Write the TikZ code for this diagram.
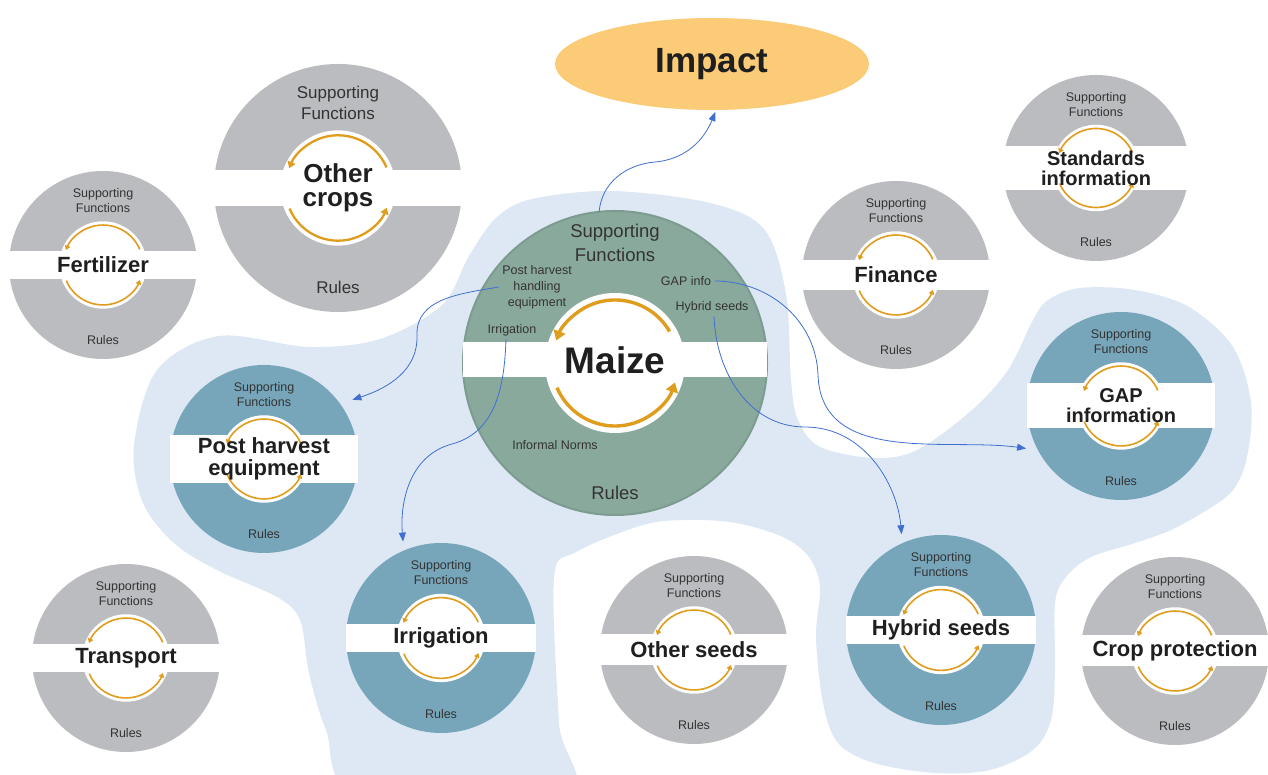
\documentclass[tikz,border=0pt]{standalone}
\usepackage{fontspec}
\setmainfont{Liberation Sans}
\usetikzlibrary{arrows.meta,calc,shapes.geometric}

\definecolor{blob}{HTML}{DDE8F4}
\definecolor{ringgray}{HTML}{BBBCBF}
\definecolor{ringblue}{HTML}{77A6BA}
\definecolor{ringgreen}{HTML}{8AA99D}
\definecolor{ringgreenline}{HTML}{7C9C90}
\definecolor{orng}{HTML}{E09D1D}
\definecolor{impactfill}{HTML}{FBCB78}
\definecolor{linkblue}{HTML}{3F70D0}
\definecolor{txtgray}{HTML}{333333}

\tikzset{
  cyc/.style={draw=orng, line width=1.6pt, -{Triangle[length=0pt 2.8, width=0pt 3.6]}},
  ring/.style={circle, inner sep=0pt, outer sep=0pt},
  sflabel/.style={align=center, text=txtgray, font=\fontsize{12.5}{15}\selectfont},
  mslabel/.style={align=center, text=black!88, font=\bfseries\fontsize{22}{22}\selectfont},
  twoline/.style={font=\bfseries\fontsize{20}{20}\selectfont},
  link/.style={draw=linkblue, line width=0.8pt, -{Triangle[length=9pt,width=7pt]}},
}

% market system: [label style]{name}{centre}{radius}{ring colour}{half band}{label}
\newcommand{\msys}[7][]{%
  \fill[#5] (#3) circle (#4);
  \fill[white] (#3) circle ({0.465*#4});
  \fill[white] ($(#3)+(-#4,-#6)$) rectangle ($(#3)+(#4,#6)$);
  \draw[cyc] ($(#3)+(23:{0.425*#4})$) arc (23:158:{0.425*#4});
  \draw[cyc] ($(#3)+(203:{0.425*#4})$) arc (203:338:{0.425*#4});
  \node[ring, minimum size={2*#4}] (#2) at (#3) {};
  \node[mslabel, #1] (#2-l) at (#3) {#7};
  \node[sflabel] (#2-sf) at ($(#3)+(0,{0.685*#4})$) {Supporting\\Functions};
  \node[sflabel] (#2-r) at ($(#3)+(0,{-0.8*#4})$) {Rules};
}

\begin{document}
\begin{tikzpicture}[x=1pt, y=1pt]
  \useasboundingbox (0,0) rectangle (1268,775);
  \fill[white] (0,0) rectangle (1268,775);

  % light blue area
  \fill[blob] plot[smooth cycle, tension=0.55] coordinates {
    (612,584) (710,572) (764,546) (786,481) (791,395) (798,355) (820,328)
    (874,317) (917,325) (972,365) (1008,405) (1033,455) (1048,475) (1080,487)
    (1135,485) (1189,468) (1233,428) (1251,372) (1247,318) (1233,285) (1207,265)
    (1171,245) (1135,232) (1091,218) (1066,198) (1055,172) (1055,105) (1051,55)
    (1033,25) (990,5) (935,2) (874,12) (838,32) (823,72) (816,138) (820,188)
    (809,218) (783,238) (736,252) (688,255) (643,250) (576,223) (554,197)
    (559,52) (565,-20) (360,-20) (326,45) (309,102) (300,155) (277,178)
    (219,204) (175,231) (143,272) (134,329) (157,405) (219,439) (309,428)
    (380,436) (442,470) (469,519) (496,557) (532,576)};

  \node[ellipse, fill=impactfill, minimum width=314pt, minimum height=92pt, inner sep=0pt,
        text=black!88, font=\bfseries\fontsize{35}{35}\selectfont] (impact) at (712,711) {Impact};

  % maize
  \filldraw[fill=ringgreen, draw=ringgreenline, line width=2pt] (615,412) circle (152);
  \fill[white] (615,412) circle (70);
  \fill[white] (463,398) rectangle (767,433);
  \draw[cyc, line width=3.4pt] ($(615,412)+(30:63)$) arc (30:159:63);
  \draw[cyc, line width=3.4pt] ($(615,412)+(203:63)$) arc (203:342:63);
  \node[ring, minimum size=304pt] (maize) at (615,412) {};
  \node[mslabel, font=\bfseries\fontsize{37}{37}\selectfont] (maize-l) at (615,415) {Maize};
  \node[sflabel, font=\fontsize{18.5}{24}\selectfont] (maize-sf) at (615,532) {Supporting\\Functions};
  \node[sflabel, font=\fontsize{18.5}{24}\selectfont] (maize-r) at (615,282) {Rules};
  \node[sflabel, font=\fontsize{12.5}{16}\selectfont] (maize-ph) at (537,488) {Post harvest\\handling\\equipment};
  \node[sflabel] (maize-gap) at (686,494) {GAP info};
  \node[sflabel] (maize-hyb) at (712,468) {Hybrid seeds};
  \node[sflabel] (maize-irr) at (512,445) {Irrigation};
  \node[sflabel] (maize-norms) at (555,330) {Informal Norms};

  \begin{scope}[cyc/.append style={line width=2.3pt},
      sflabel/.append style={font=\fontsize{17}{21}\selectfont}]
    \msys[font=\bfseries\fontsize{26}{24}\selectfont]{ocrops}{338,587}{124}{ringgray}{18}{Other\\crops}
  \end{scope}
  \msys{fert}{103,510}{94}{ringgray}{14}{Fertilizer}
  \msys[twoline]{stand}{1096,607}{93}{ringgray}{22}{Standards\\information}
  \msys{fin}{896,500}{94}{ringgray}{15}{Finance}
  \msys[font=\bfseries\fontsize{22}{22}\selectfont]{pheq}{264,316}{94}{ringblue}{24}{Post harvest\\equipment}
  \msys[twoline]{gap}{1121,369}{94}{ringblue}{22.5}{GAP\\information}
  \msys{irr}{441,137}{95}{ringblue}{14}{Irrigation}
  \msys{trans}{126,117}{94}{ringgray}{14}{Transport}
  \msys{oseeds}{694,125}{94}{ringgray}{15.5}{Other seeds}
  \msys{hyb}{941,145}{95}{ringblue}{14}{Hybrid seeds}
  \msys{cprot}{1175,124}{94}{ringgray}{15.5}{Crop protection}

  % links
  \draw[link, shorten >=2pt] (maize.96) to[out=85,in=185] (655,613) to[out=5,in=-112] (impact.-85);
  \draw[link, shorten >=13pt] (maize-ph.west) to[out=190,in=92] (417,440) to[out=-88,in=18] (pheq.36);
  \draw[link, shorten >=9pt] ([xshift=-6pt]maize-irr.south) to[out=-92,in=15] (452,331) to[out=195,in=95] (irr.113);
  \draw[link, shorten >=12pt] (maize-gap.east) to[out=0,in=92] (818,400) to[out=-88,in=172] (gap.208);
  \draw[link, shorten >=9pt] ([xshift=2pt]maize-hyb.south) to[out=-88,in=180] (805,348) to[out=0,in=95] (hyb.114);
\end{tikzpicture}
\end{document}
